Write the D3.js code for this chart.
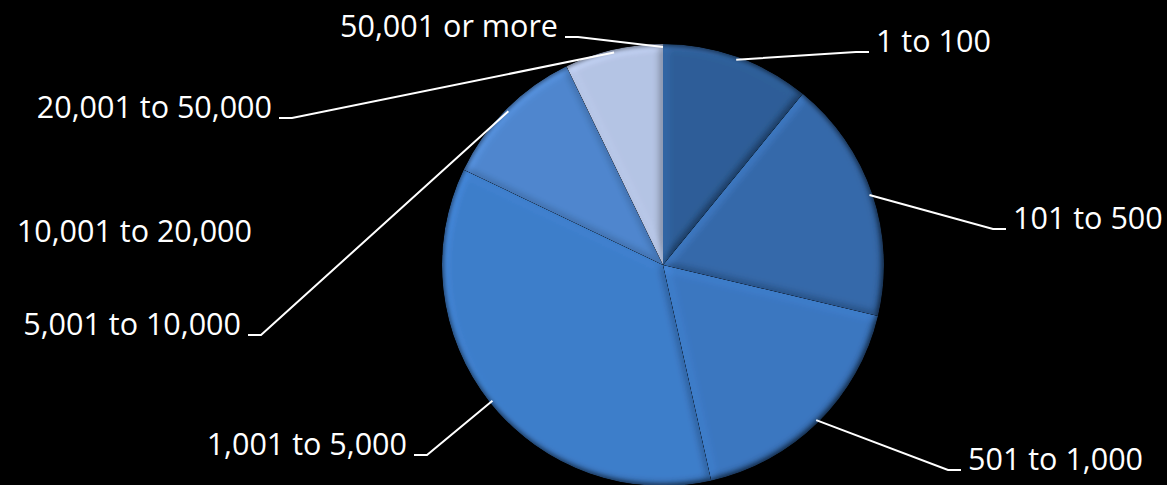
<!DOCTYPE html>
<html>
<head>
<meta charset="utf-8">
<script src="https://cdn.jsdelivr.net/npm/d3@7"></script>
<style>
  html, body { margin: 0; padding: 0; background: #000; }
  svg { display: block; }
</style>
</head>
<body>
<div id="chart"></div>
<script>
/*
 * Pie chart of share by size band
 */

var categories = ["1 to 100", "101 to 500", "501 to 1,000", "1,001 to 5,000",
                  "5,001 to 10,000", "10,001 to 20,000", "20,001 to 50,000", "50,001 or more"];
var shares = [10.9, 17.8, 17.8, 35.6, 10.7, 0, 7.2, 0];
var sliceColors = ["#2e5e98", "#3569aa", "#3b77c1", "#3e7ecb",
                   "#4f87cf", "#7fa3da", "#b5c4e4", "#d0dbef"];

// where each label sits (text anchor point) and which side the leader comes in from
var labelSpots = [
  {x: 876, y: 52, side: "right"},
  {x: 1013, y: 229, side: "right"},
  {x: 968, y: 470, side: "right"},
  {x: 407, y: 455, side: "left"},
  {x: 241, y: 335, side: "left"},
  {x: 252, y: 242, side: "left", noLeader: true},
  {x: 272, y: 118, side: "left"},
  {x: 558, y: 37, side: "left"}
];

var width = 1167, height = 485;
var cx = 663, cy = 265, radius = 221;

var svg = d3.select("#chart").append("svg")
  .attr("width", width).attr("height", height)
  .style("background", "#000");

// bevel filter: lit from the top left
var defs = svg.append("defs");
var f = defs.append("filter").attr("id", "bevel")
  .attr("x", "-10%").attr("y", "-10%").attr("width", "120%").attr("height", "120%");
f.append("feGaussianBlur").attr("in", "SourceAlpha").attr("stdDeviation", 4).attr("result", "blur");
f.append("feDiffuseLighting").attr("in", "blur").attr("surfaceScale", 3)
  .attr("diffuseConstant", 1).attr("lighting-color", "#fff").attr("result", "light")
  .append("feDistantLight").attr("azimuth", 225).attr("elevation", 50);
f.append("feComposite").attr("in", "SourceGraphic").attr("in2", "light")
  .attr("operator", "arithmetic").attr("k1", 1.3).attr("k2", 0).attr("k3", 0).attr("k4", 0)
  .attr("result", "lit");
f.append("feComposite").attr("in", "lit").attr("in2", "SourceAlpha").attr("operator", "in");

var soft = defs.append("filter").attr("id", "soft");
soft.append("feGaussianBlur").attr("stdDeviation", 2.5);

var pie = d3.pie().sort(null).value(function(d){ return d; });
var arcs = pie(shares);

var arc = d3.arc().innerRadius(0).outerRadius(radius);
var edge = d3.arc().innerRadius(radius - 3).outerRadius(radius - 3);

var g = svg.append("g").attr("transform", "translate(" + cx + "," + cy + ")");

g.selectAll("path.slice").data(arcs).enter().append("path")
  .attr("class", "slice")
  .attr("d", arc)
  .style("fill", function(d, i){ return sliceColors[i]; })
  .attr("filter", "url(#bevel)");

// darken the very rim a little
g.append("circle").attr("r", radius + 1)
  .style("fill", "none").style("stroke", "#000").style("stroke-opacity", 0.7).style("stroke-width", 4)
  .attr("filter", "url(#soft)");

// leader lines
var lines = svg.append("g")
  .style("fill", "none").style("stroke", "#fff").style("stroke-width", 2);

labelSpots.forEach(function(s, i){
  if (s.noLeader) return;
  var p = edge.centroid(arcs[i]);
  var dir = s.side == "left" ? 1 : -1;
  var pts = [
    [cx + p[0], cy + p[1]],
    [s.x + dir * 20, s.y],
    [s.x + dir * 7, s.y]
  ];
  lines.append("path").attr("d", d3.line()(pts));
});

// labels
svg.append("g").selectAll("text").data(categories).enter().append("text")
  .attr("x", function(d, i){ return labelSpots[i].x; })
  .attr("y", function(d, i){ return labelSpots[i].y; })
  .attr("text-anchor", function(d, i){ return labelSpots[i].side == "left" ? "end" : "start"; })
  .style("font-family", "'Open Sans', sans-serif")
  .style("font-size", "30.5px")
  .style("fill", "#fff")
  .text(function(d){ return d; });
</script>
</body>
</html>
